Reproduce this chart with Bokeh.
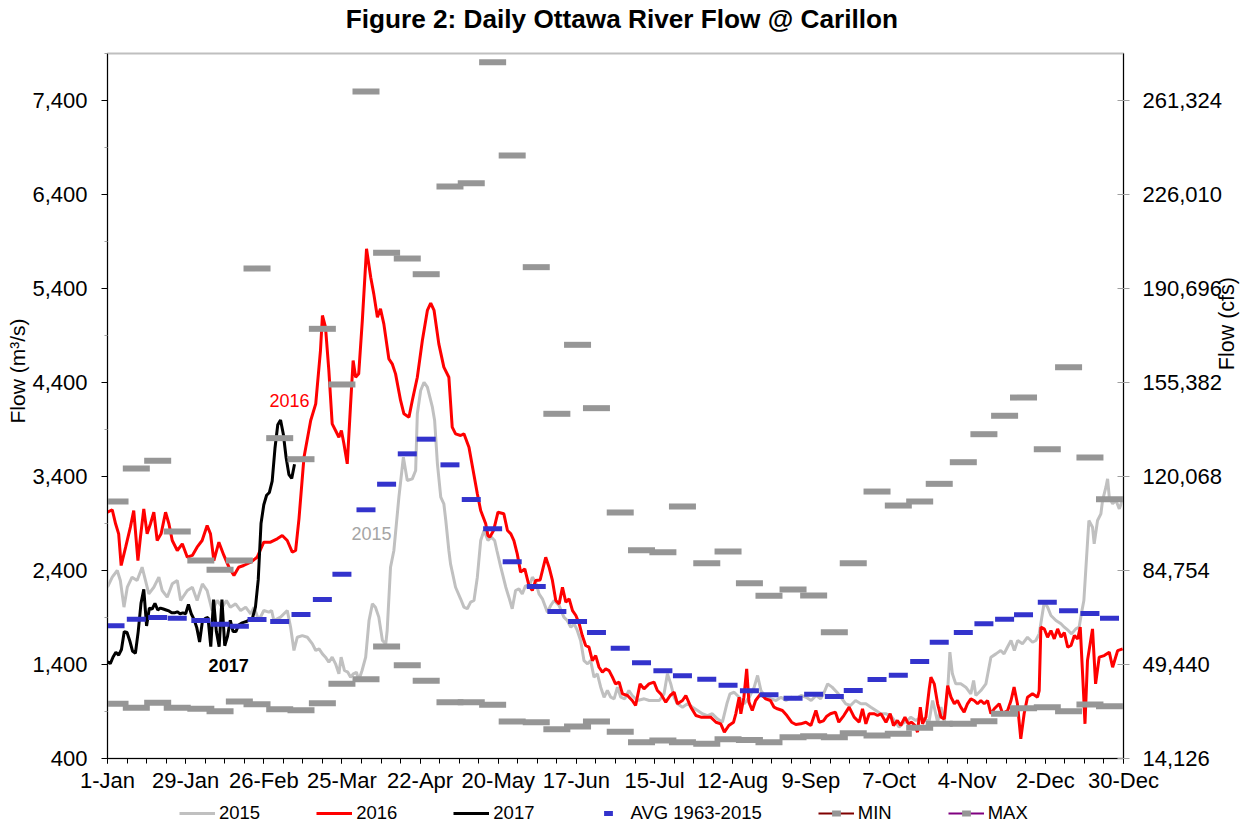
import math
from bokeh.plotting import figure
from bokeh.layouts import column
from bokeh.models import (Range1d, LinearAxis, FixedTicker, NumeralTickFormatter,
                          Legend, LegendItem, Label)
from bokeh.embed import file_html
from bokeh.resources import INLINE

FONT = "Liberation Sans"
CFS = 35.3141
NB = "\u00a0"

# ---------------- data ----------------
title_text = "Figure 2:  Daily Ottawa River Flow @ Carillon"
tick_days = [0, 28, 56, 84, 112, 140, 168, 196, 224, 252, 280, 308, 336, 364]
tick_labels = ["1-Jan", "29-Jan", "26-Feb", "25-Mar", "22-Apr", "20-May", "17-Jun",
               "15-Jul", "12-Aug", "9-Sep", "7-Oct", "4-Nov", "2-Dec", "30-Dec"]
flow_ticks = [400, 1400, 2400, 3400, 4400, 5400, 6400, 7400]

month_len = [31, 28, 31, 30, 31, 30, 31, 31, 30, 31, 30, 31]
quarter_frac = [0.087, 0.333, 0.58, 0.806]

avg_flow = [1811, 1882, 1900, 1893, 1868, 1829, 1807, 1879, 1857, 1932, 2091, 2361,
            3045, 3318, 3641, 3797, 3524, 3155, 2843, 2493, 2230, 1964, 1857, 1740,
            1573, 1418, 1333, 1280, 1244, 1180, 1120, 1078, 1041, 1084, 1060, 1123,
            1240, 1286, 1432, 1637, 1740, 1833, 1882, 1928, 2063, 1971, 1942, 1893]
min_flow = [982, 939, 993, 939, 928, 903, 1006, 978, 924, 914, 988, 1194,
            1244, 1591, 1393, 1227, 999, 999, 971, 794, 786, 712, 740, 794,
            684, 573, 591, 573, 556, 605, 598, 573, 627, 637, 627, 669,
            645, 662, 727, 769, 769, 797, 876, 935, 946, 903, 974, 956]
max_flow = [3134, 3485, 3567, 2815, 2506, 2407, 2506, 5613, 3808, 3584, 4971, 4379,
            7495, 5780, 5719, 5552, 6485, 6520, 7807, 6815, 5627, 4067, 4801, 4127,
            3017, 2616, 2595, 3081, 2478, 2602, 2265, 2131, 2198, 2134, 1744, 2478,
            3240, 3091, 3134, 3322, 3552, 3850, 4046, 4240, 3690, 4563, 3602, 3159]

days_2017 = list(range(0, 68))
flow_2017 = [1430, 1410, 1480, 1530, 1500, 1560, 1750, 1740, 1650, 1540, 1520, 1750,
             2050, 2200, 1810, 2000, 1990, 2050, 1980, 2000, 1990, 1980, 1970, 1950,
             1950, 1960, 1940, 1950, 1940, 2040, 1940, 1880, 1790, 1640, 1860, 1890,
             1900, 1590, 2090, 1750, 1590, 2090, 1600, 1700, 1870, 1750, 1750, 1820,
             1840, 1850, 1860, 1880, 1900, 2010, 2300, 2900, 3100, 3200, 3230, 3350,
             3700, 3950, 4000, 3850, 3600, 3420, 3380, 3530]

days_2016 = [0, 1.7, 2.9, 4, 4.9, 6.5, 8.2, 9.4, 10.9, 11.8, 13, 14.2, 15.4, 16.6, 17.8,
             19.2, 20.8, 22, 23.2, 25, 26.8, 28.6, 30.4, 32.1, 33.9, 35.7, 36.9, 38.1,
             39.9, 41.7, 43.5, 45.3, 47, 48.8, 51.3, 53.6, 56, 58.4, 60.8, 62.6, 64.4,
             66.2, 67.4, 68.6, 70.4, 72.8, 74.6, 76.3, 77, 78.1, 79.3, 80.5, 81.7, 82.9,
             83.8, 84.7, 85.9, 87.1, 88, 88.9, 90, 91.3, 92.8, 94.3, 95.4, 96.7, 97.8,
             99, 100.8, 102, 103.2, 105, 106.2, 108, 109.2, 111, 112.8, 114.6, 115.8,
             117, 118.7, 120.5, 122.3, 123.5, 124.7, 126.5, 127.7, 129.5, 131, 132.5,
             133.7, 135.5, 136.3, 137, 138.3, 139.9, 142, 143.3, 144.5, 145.6, 146.8,
             148, 149.5, 151, 152.2, 153.4, 155, 157, 158.2, 159.4, 160.6, 161.8, 163,
             164.2, 165.4, 166.6, 167.8, 169, 170.1, 171.3, 172.5, 173.7, 174.9, 176.1,
             177.3, 178.5, 179.7, 180.9, 182, 183.3, 184.5, 186.3, 188, 189.2, 190.8,
             192.2, 194, 195.8, 197, 198.2, 200, 201.6, 203, 204.2, 206, 207.2, 209,
             210.8, 212.6, 214.3, 216.1, 218, 219.7, 221, 222.6, 224.3, 225.1, 226.3,
             226.9, 228, 229, 229.8, 231, 232.2, 234, 235.8, 237.5, 238.8, 240, 241.8,
             243.4, 245.1, 246.6, 248.4, 250.2, 252, 253.8, 255, 256.5, 257.7, 259,
             260.8, 262, 263.8, 265.7, 267.5, 269.3, 270.5, 271.7, 272.9, 274.7, 275.9,
             277.1, 278.9, 280.4, 281.6, 283, 284.2, 285.7, 286.9, 288.1, 289.3, 290.2,
             291.2, 292, 293.2, 294.4, 295, 296.2, 297.4, 298.6, 299.8, 301, 302.2,
             303.4, 304.5, 305.7, 306.9, 308.1, 309.3, 310.5, 311.7, 312.9, 314.1,
             315.3, 316.5, 317.7, 319.5, 320.7, 322.5, 323.7, 324.8, 326, 327.2, 328.4,
             329.6, 331.4, 333.2, 333.8, 334.4, 335.6, 336.8, 338, 339.2, 340.4, 341.6,
             342.8, 344, 345.2, 346.4, 347.6, 348.5, 349.7, 350.2, 351.1, 352.9, 354,
             355.3, 357.1, 358.9, 360.1, 361.9, 363.7]
flow_2016 = [3020, 3046, 2897, 2790, 2453, 2648, 2861, 3038, 2506, 2754, 3056, 2790, 2897,
             3020, 2719, 2790, 3020, 2897, 2719, 2613, 2684, 2541, 2560, 2648, 2719, 2879,
             2790, 2506, 2701, 2560, 2435, 2347, 2435, 2453, 2488, 2541, 2701, 2701, 2737,
             2772, 2719, 2595, 2613, 2950, 3605, 3996, 4173, 4740, 5113, 4988, 4528, 3960,
             3889, 3818, 3889, 3748, 3535, 4173, 4634, 4456, 4492, 5060, 5822, 5520, 5343,
             5095, 5184, 5024, 4652, 4599, 4492, 4209, 4067, 4031, 4209, 4456, 4847, 5166,
             5244, 5166, 4811, 4563, 4456, 3925, 3854, 3836, 3854, 3712, 3464, 3216, 3038,
             2897, 2772, 2755, 2825, 3020, 3003, 2825, 2790, 2719, 2577, 2382, 2417, 2240,
             2187, 2294, 2300, 2541, 2435, 2294, 2081, 2045, 2222, 2063, 2098, 1974, 1921,
             1833, 1708, 1602, 1584, 1442, 1495, 1371, 1318, 1353, 1335, 1265, 1194, 1212,
             1088, 1070, 1017, 964, 1194, 1141, 1194, 1212, 1123, 1088, 999, 1070, 1105,
             982, 1017, 1070, 946, 857, 840, 840, 840, 786, 769, 680, 751, 786, 875, 1052,
             875, 1052, 1354, 1000, 911, 1017, 1088, 1035, 1017, 946, 929, 911, 857, 786,
             762, 769, 786, 751, 911, 786, 800, 850, 876, 893, 786, 857, 946, 840, 786,
             929, 769, 876, 876, 857, 876, 786, 876, 751, 804, 751, 840, 769, 786, 751,
             680, 946, 769, 840, 1141, 1265, 1194, 982, 840, 822, 1176, 1052, 982, 1017,
             946, 893, 982, 1035, 1017, 982, 1017, 982, 1017, 876, 929, 982, 876, 911,
             1017, 1159, 982, 609, 876, 1052, 1088, 1052, 1123, 1797, 1780, 1690, 1761,
             1673, 1779, 1690, 1740, 1584, 1602, 1708, 1673, 1797, 1088, 769, 1442, 1779,
             1194, 1478, 1495, 1531, 1371, 1548, 1566]

days_2015 = [0, 1.7, 3.5, 4.6, 5.9, 7.1, 8.8, 10.6, 12.4, 13.6, 14.8, 16.6, 18.4, 19.6,
             21.4, 23.2, 25, 26.2, 28.6, 30.4, 32.1, 34, 35.7, 37.5, 39.3, 41.1, 42.6, 44,
             45.9, 47.7, 49.5, 51.3, 52.5, 54.2, 56, 57.8, 58.8, 59.6, 62, 64.4, 65.6,
             66.8, 68, 69.8, 71.6, 73.4, 74.6, 75.8, 77, 78.1, 79.3, 80.5, 81.7, 82.9,
             83.7, 84.9, 86.1, 87.1, 88.1, 89.2, 90, 91.2, 92.5, 93.7, 94.9, 96, 97.2,
             98.5, 99.7, 100.2, 101.4, 102.6, 104.4, 106, 107.4, 109.2, 110.4, 111, 112.2,
             113.4, 114.6, 116.4, 117.2, 118.2, 119.4, 120.5, 121.2, 122.3, 122.9, 124.7,
             126.5, 127.7, 128.9, 130.1, 131.3, 132.5, 133.7, 134.9, 136.3, 137.5, 138.7,
             139.5, 140.9, 142.7, 143.8, 145, 146.2, 147.4, 148.6, 149.8, 151, 152.2,
             153.4, 154.6, 155.8, 157.6, 158.8, 160, 161.8, 163.5, 164.7, 166, 167.2,
             168.3, 169.5, 170.7, 172, 173.1, 174.3, 175.5, 176.7, 177.9, 179.1, 180.3,
             181.5, 182.7, 183.9, 185.3, 186.8, 188, 189.9, 192.3, 194.1, 195.9, 197.7,
             199.4, 200.6, 201.8, 203, 204.2, 206, 207.8, 209.6, 211.4, 213.1, 214.9,
             216.7, 218.5, 220.3, 221.9, 223, 224.5, 226.3, 228.1, 229.9, 231.7, 232.9,
             234.1, 235.9, 237.7, 239.5, 241.3, 243.1, 244.9, 246.7, 248.5, 250.3, 252.1,
             253.9, 255.5, 256.7, 258, 259.6, 261.5, 262.7, 264.5, 266.2, 268, 269.9,
             271.7, 273.5, 275.3, 277, 278.8, 280.6, 282.4, 283.6, 284.8, 286.6, 287.8,
             289.6, 291.4, 293.2, 294.4, 295.6, 296.2, 297.4, 298.6, 299.8, 301, 301.8,
             302.7, 303.9, 305.7, 307.5, 309.3, 310.3, 311.1, 312.9, 314.7, 316.5, 318.3,
             320, 321.2, 322.4, 323.7, 324.9, 326.1, 327.8, 329.6, 331.4, 332.6, 333.8,
             335.6, 336.8, 338, 339.8, 341.6, 342.8, 344.2, 345.4, 346.9, 348.1, 348.9,
             349.8, 350.4, 351.6, 352.9, 353.5, 354.7, 355.9, 356.5, 357.7, 358.3, 358.9,
             360.1, 361.3, 362.5, 364]
flow_2015 = [2222, 2329, 2400, 2294, 2010, 2222, 2329, 2294, 2435, 2294, 2152, 2222, 2329,
             2187, 2116, 2258, 2294, 2081, 2187, 2222, 2081, 2258, 2187, 1974, 2081, 2010,
             2081, 2010, 2045, 1974, 2010, 1939, 2010, 1868, 1974, 1957, 1974, 1868, 1904,
             1974, 1797, 1549, 1690, 1708, 1690, 1620, 1549, 1566, 1513, 1478, 1424, 1478,
             1407, 1301, 1478, 1336, 1318, 1265, 1301, 1318, 1230, 1336, 1478, 1868, 2045,
             2010, 1904, 1655, 1620, 1762, 2435, 2613, 3180, 3605, 3357, 3375, 3464, 4067,
             4315, 4403, 4350, 4137, 3996, 3535, 3180, 3110, 2932, 2613, 2471, 2222, 2099,
             2010, 1993, 2063, 2081, 2329, 2719, 2825, 2719, 2755, 2719, 2613, 2435, 2222,
             2116, 1993, 2187, 2205, 2152, 2240, 2222, 2329, 2276, 2152, 2099, 1957, 2028,
             2081, 2028, 1904, 1868, 1797, 1833, 1762, 1655, 1442, 1407, 1442, 1265, 1301,
             1159, 1052, 1123, 1052, 1035, 1159, 1052, 1035, 1123, 1070, 1017, 1035, 1017,
             1017, 1017, 1088, 1301, 1194, 1052, 982, 946, 982, 946, 911, 876, 857, 876,
             822, 786, 982, 1088, 1105, 1052, 982, 1052, 1159, 1283, 1123, 1052, 1035,
             1017, 1052, 1017, 1052, 1035, 1070, 1052, 1017, 1070, 1035, 1100, 1194, 1159,
             1100, 1052, 982, 964, 1017, 982, 982, 946, 911, 876, 876, 857, 786, 733, 769,
             804, 840, 804, 840, 804, 804, 1017, 946, 786, 946, 786, 1123, 1531, 1301,
             1194, 1194, 1159, 1088, 1230, 1070, 1123, 1194, 1478, 1513, 1549, 1513, 1584,
             1655, 1549, 1655, 1620, 1690, 1637, 1655, 1726, 2063, 2010, 1921, 1868, 1833,
             1797, 1762, 1726, 1779, 1797, 1939, 2081, 2365, 2932, 2861, 2684, 2932, 3003,
             3145, 3286, 3375, 3180, 3110, 3145, 3056, 3180]

# quarter-month positions (day of year) for the AVG / MIN / MAX markers
month_start = [sum(month_len[:i]) for i in range(12)]
q_days = [month_start[m] + month_len[m] * f for m in range(12) for f in quarter_frac]


def strip(height):
    f = figure(width=1254, height=height, x_range=Range1d(0, 1), y_range=Range1d(0, 1),
               output_backend="svg", toolbar_location=None, min_border=0,
               x_axis_location=None, y_axis_location=None, title=None)
    f.xgrid.visible = False
    f.ygrid.visible = False
    f.outline_line_color = None
    f.background_fill_color = "white"
    f.border_fill_color = "white"
    return f


# ---------------- title strip ----------------
tf = strip(49)
tf.add_layout(Label(x=518, y=31, x_units="screen", y_units="screen", text=title_text,
                    text_font=FONT, text_font_size="26.2px", text_font_style="bold",
                    text_color="black", text_align="center", text_baseline="alphabetic"))

# ---------------- main figure ----------------
p = figure(width=1254, height=751, x_range=Range1d(0, 364), y_range=Range1d(400, 7900),
           output_backend="svg", toolbar_location=None, title=None,
           min_border_left=107, min_border_right=131, min_border_top=4,
           min_border_bottom=42)
p.xgrid.visible = False
p.ygrid.visible = False
p.outline_line_color = "#BFBFBF"
p.outline_line_width = 2
p.background_fill_color = "white"
p.border_fill_color = "white"

xa = p.xaxis[0]
xa.ticker = FixedTicker(ticks=tick_days, minor_ticks=list(range(0, 365, 7)))
xa.major_label_overrides = {d: lab for d, lab in zip(tick_days, tick_labels)}
xa.major_tick_in = 0
xa.major_tick_out = 5
xa.minor_tick_in = 0
xa.minor_tick_out = 5
xa.axis_line_color = "black"
xa.major_label_text_font = FONT
xa.major_label_text_font_size = "22px"
xa.major_label_text_color = "black"
xa.major_label_standoff = 4

ya = p.yaxis[0]
ya.ticker = FixedTicker(ticks=flow_ticks, minor_ticks=[t + 500 for t in flow_ticks])
ya.formatter = NumeralTickFormatter(format="0,0")
ya.major_tick_in = 0
ya.major_tick_out = 6
ya.minor_tick_in = 0
ya.minor_tick_out = 3
ya.minor_tick_line_color = "#A0A0A0"
ya.axis_line_color = "black"
ya.major_label_text_font = FONT
ya.major_label_text_font_size = "22px"
ya.major_label_text_color = "black"
ya.major_label_standoff = 14
ya.axis_label = NB * 12 + "Flow (m³/s)"
ya.axis_label_text_font = FONT
ya.axis_label_text_font_size = "21px"
ya.axis_label_text_font_style = "normal"
ya.axis_label_text_color = "black"
ya.axis_label_standoff = 0

p.extra_y_ranges = {"cfs": Range1d(400 * CFS, 7900 * CFS)}
ra = LinearAxis(y_range_name="cfs",
                ticker=FixedTicker(ticks=[t * CFS for t in flow_ticks], minor_ticks=[]),
                formatter=NumeralTickFormatter(format="0,0"))
ra.major_tick_in = 6
ra.major_tick_out = 6
ra.major_tick_line_color = "#A0A0A0"
ra.axis_line_color = "black"
ra.major_label_text_font = FONT
ra.major_label_text_font_size = "22px"
ra.major_label_text_color = "black"
ra.major_label_standoff = 13
ra.axis_label = NB * 6 + "Flow (cfs)"
ra.axis_label_orientation = math.pi / 2
ra.axis_label_text_align = "center"
ra.axis_label_text_baseline = "top"
ra.axis_label_text_font = FONT
ra.axis_label_text_font_size = "21.5px"
ra.axis_label_text_font_style = "normal"
ra.axis_label_text_color = "black"
ra.axis_label_standoff = 2
p.add_layout(ra, "right")

# ---------------- series ----------------
STY15 = dict(line_color="#C0C0C0", line_width=3)
STY16 = dict(line_color="#FF0000", line_width=3)
STY17 = dict(line_color="#000000", line_width=3)
STYAVG = dict(marker="dash", size=19, line_color="#3333CC", line_width=5)
STYMM = dict(marker="dash", size=27, line_color="#969696", line_width=6)

p.line(days_2015, flow_2015, **STY15)
p.line(days_2016, flow_2016, **STY16)
p.line(days_2017, flow_2017, **STY17)
p.scatter(q_days, avg_flow, **STYAVG)
p.scatter(q_days, min_flow, **STYMM)
p.scatter(q_days, max_flow, **STYMM)

p.add_layout(Label(x=65.2, y=4209, text="2016", text_color="#FF0000", text_font=FONT,
                   text_font_size="18px", text_align="center", text_baseline="middle"))
p.add_layout(Label(x=94.6, y=2794, text="2015", text_color="#A5A5A5", text_font=FONT,
                   text_font_size="18px", text_align="center", text_baseline="middle"))
p.add_layout(Label(x=43.4, y=1389, text="2017", text_color="#000000", text_font=FONT,
                   text_font_size="18px", text_font_style="bold", text_align="center",
                   text_baseline="middle"))

# ---------------- legend strip ----------------
# (same series drawn again, entirely outside this strip's 0..1 ranges, so only
#  their legend glyphs appear)
lf = strip(26)
g15 = lf.line(days_2015, flow_2015, **STY15)
g16 = lf.line(days_2016, flow_2016, **STY16)
g17 = lf.line(days_2017, flow_2017, **STY17)
gavg = lf.scatter(q_days, avg_flow, **STYAVG)
gmin_l = lf.line(q_days, min_flow, line_color="#800000", line_width=2)
gmin = lf.scatter(q_days, min_flow, **STYMM)
gmax_l = lf.line(q_days, max_flow, line_color="#800080", line_width=2)
gmax = lf.scatter(q_days, max_flow, **STYMM)

legend = Legend(items=[
    LegendItem(label="2015", renderers=[g15]),
    LegendItem(label="2016", renderers=[g16]),
    LegendItem(label="2017", renderers=[g17]),
    LegendItem(label="AVG 1963-2015", renderers=[gavg]),
    LegendItem(label="MIN", renderers=[gmin_l, gmin]),
    LegendItem(label="MAX", renderers=[gmax_l, gmax]),
], orientation="horizontal", location=(72, 2), glyph_width=36, glyph_height=22,
    label_height=20, label_standoff=4, spacing=56, padding=0, margin=0,
    border_line_color=None, background_fill_alpha=0,
    label_text_font=FONT, label_text_font_size="18.5px", label_text_color="black")
lf.add_layout(legend, "center")

layout = column(tf, p, lf, spacing=0)
open("out.html", "w").write(file_html(layout, INLINE))
